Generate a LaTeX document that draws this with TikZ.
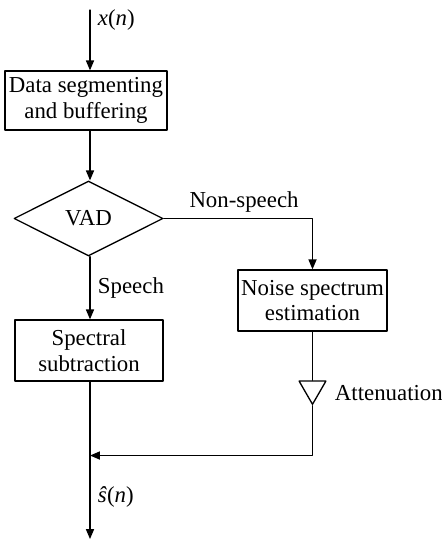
\documentclass[tikz,border=0pt]{standalone}
\usepackage{fontspec}
\setmainfont{Liberation Serif}
\usepackage{tikz}
\usetikzlibrary{
    arrows.meta,
    calc,
    positioning,
    shapes.geometric
}

\begin{document}
\begin{tikzpicture}[x=0.016cm,y=-0.016cm,line cap=round,line join=round,
   font=\fontsize{10.4}{11.6}\selectfont,
   every path/.style={line width=0.6pt},
   flow/.style={-{Triangle[length=1.6mm,width=1.3mm]}},
   block/.style={draw,align=center,inner sep=0pt},
   decision/.style={draw,diamond,inner sep=0pt,minimum width=149*\pxl,minimum height=75*\pxl},
   gain/.style={draw,regular polygon,regular polygon sides=3,shape border rotate=180,
     inner sep=0pt,minimum size=31*\pxl}]
\def\pxl{0.016cm} % one pixel of the layout
\useasboundingbox (0,0) rectangle (441,539);
% blocks
\node[block,minimum width=162*\pxl,minimum height=59*\pxl] (seg) at (86,100.5)
  {Data segmenting\\and buffering};
\node[decision] (vad) at (88.5,218.5) {VAD};
\node[block,minimum width=148*\pxl,minimum height=61*\pxl] (spec) at (89,350.5)
  {Spectral\\subtraction};
\node[block,minimum width=149*\pxl,minimum height=61*\pxl] (noise) at (312.5,300.5)
  {Noise spectrum\\estimation};
\node[gain] (att) at (312.5,388.8) {};
\node[anchor=west] (attlbl) at (327,393) {Attenuation};
% free ends
\coordinate (in)   at (90,10);
\coordinate (join) at (90,455.5);
\coordinate (out)  at (90,539);
% connectors
\draw[flow] (in) -- node[right,pos=0.17] {\textit{x}(\textit{n})} (in |- seg.north);
\draw[flow] (in |- seg.south) -- (in |- vad.north);
\draw[flow] (in |- vad.south) -- node[right] {Speech} (in |- spec.north);
\draw[flow] (vad.east) -| node[above,pos=0.27,yshift=-1pt] {Non-speech} (noise.north);
\draw (noise.south) -- (att.north);
\draw[flow] (att.corner 1) |- (join);
\draw (in |- spec.south) -- (join);
\draw[flow] (join) -- node[right,pos=0.5] {\textit{\^{s}}(\textit{n})} (out);
\end{tikzpicture}
\end{document}
